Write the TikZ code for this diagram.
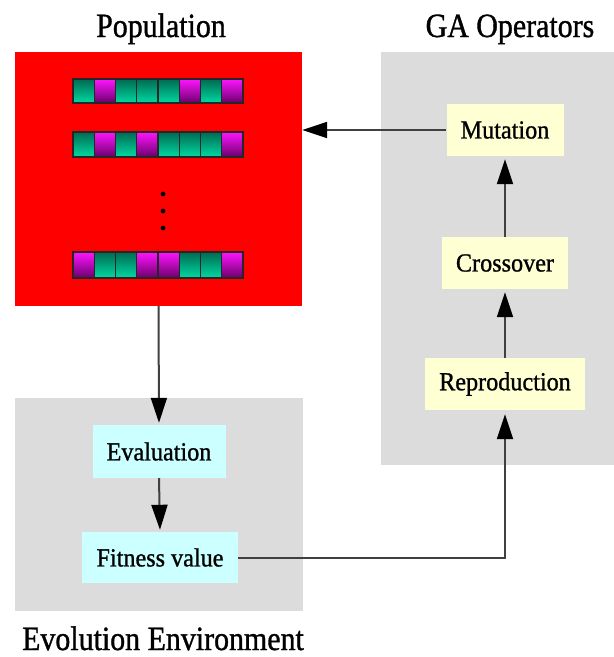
\documentclass[tikz,border=0pt]{standalone}
\usepackage{fontspec}
\setmainfont{Liberation Serif}
\newfontfamily\titlefont[FakeStretch=0.88, FakeBold=1.0]{Liberation Serif}
\newfontfamily\labelfont[FakeStretch=0.93, FakeBold=1.0]{Liberation Serif}
\usetikzlibrary{arrows.meta}
\definecolor{popred}{HTML}{FF0000}
\definecolor{panelgrey}{HTML}{DCDCDC}
\definecolor{opyellow}{HTML}{FFFFD4}
\definecolor{evcyan}{HTML}{CCFFFF}
\definecolor{linegrey}{HTML}{404040}
\definecolor{gtop}{HTML}{006A52}
\definecolor{gbot}{HTML}{00DAA2}
\definecolor{mtop}{HTML}{FF14FF}
\definecolor{mbot}{HTML}{6A006A}
\begin{document}
\begin{tikzpicture}[x=1pt,y=-1pt,
  panel/.style={fill=panelgrey, draw=none, inner sep=0pt},
  popbox/.style={fill=popred, draw=none, inner sep=0pt},
  opbox/.style={fill=opyellow, draw=none, inner sep=0pt, font=\labelfont\fontsize{26}{28}\selectfont},
  evbox/.style={fill=evcyan, draw=none, inner sep=0pt, font=\labelfont\fontsize{26}{28}\selectfont},
  title/.style={inner sep=0pt, anchor=base, font=\titlefont\fontsize{34}{38}\selectfont},
  conn/.style={draw=linegrey, line width=2pt,
    -{Triangle[length=25pt,width=16pt,color=black]}},
  gcell/.style={top color=gtop, bottom color=gbot, draw=black!85, line width=1.4pt},
  mcell/.style={top color=mtop, bottom color=mbot, draw=black!85, line width=1.4pt},
  dotmark/.style={fill=black, draw=none}
]
\useasboundingbox (0,0) rectangle (614,657);
\fill[white] (0,0) rectangle (614,657);

% panels
\node[panel, minimum width=233pt, minimum height=413pt] (gapanel) at (497.5,258.5) {};
\node[panel, minimum width=288pt, minimum height=213pt] (evpanel) at (159,504.5) {};
\node[popbox, minimum width=287pt, minimum height=254pt] (pop) at (158.5,179) {};

% titles
\node[title] (poptitle) at (161,37) {Population};
\node[title] (gatitle) at (510,37) {GA Operators};
\node[title] (evtitle) at (163,650) {Evolution Environment};

% operator boxes
\node[opbox, minimum width=117pt, minimum height=52pt] (mut) at (505,130) {Mutation};
\node[opbox, minimum width=126pt, minimum height=52pt] (cross) at (505,263) {Crossover};
\node[opbox, minimum width=160pt, minimum height=52pt] (repro) at (505,384) {Reproduction};

% evaluation boxes
\node[evbox, minimum width=133pt, minimum height=53pt] (eval) at (159,451.5) {Evaluation};
\node[evbox, minimum width=156pt, minimum height=51pt] (fit) at (160,557.5) {Fitness value};

% chromosomes
\foreach \s [count=\i from 0] in {0,1,0,0,0,1,0,1} {
  \ifnum\s=1 \draw[mcell] (73+\i*21.25,79) rectangle ++(21.25,24);
  \else \draw[gcell] (73+\i*21.25,79) rectangle ++(21.25,24); \fi
}
\foreach \s [count=\i from 0] in {0,1,0,1,0,0,0,1} {
  \ifnum\s=1 \draw[mcell] (73+\i*21.25,132) rectangle ++(21.25,25);
  \else \draw[gcell] (73+\i*21.25,132) rectangle ++(21.25,25); \fi
}
\foreach \s [count=\i from 0] in {1,0,0,1,1,0,0,1} {
  \ifnum\s=1 \draw[mcell] (73+\i*21.25,252) rectangle ++(21.25,26);
  \else \draw[gcell] (73+\i*21.25,252) rectangle ++(21.25,26); \fi
}
\fill[dotmark] (163,194) circle (2.4pt);
\fill[dotmark] (163,211) circle (2.4pt);
\fill[dotmark] (163,228) circle (2.4pt);

% connectors
\draw[conn] (mut.west) -- (mut.west -| pop.east);
\draw[conn, shorten >=3pt] (cross.north) -- (mut.south);
\draw[conn, shorten >=3pt] (repro.north) -- (cross.south);
\draw[conn, shorten >=2pt] (pop.south) -- (eval.north);
\draw[conn, shorten >=2pt] (eval.south) -- (fit.north);
\draw[conn, shorten >=4pt] (fit.east) -| (repro.south);
\end{tikzpicture}
\end{document}
